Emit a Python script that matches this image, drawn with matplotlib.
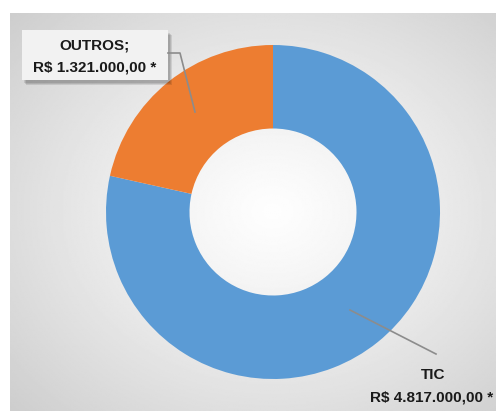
import numpy as np
import matplotlib
matplotlib.use("Agg")
import matplotlib.pyplot as plt
from matplotlib.patches import Rectangle

# valores do gráfico
categorias = ["TIC", "OUTROS"]
valores = [4817000, 1321000]
cores = ["#5B9BD5", "#ED7D31"]
nomes = ["TIC", "OUTROS;"]
textos_valor = ["R$ 4.817.000,00 *", "R$ 1.321.000,00 *"]

W, H = 496, 411
fig = plt.figure(figsize=(W / 100, H / 100), dpi=100)
fig.patch.set_facecolor("white")

# fundo cinza com gradiente radial (branco no centro da rosca)
bg = fig.add_axes([10 / W, 0, (W - 10) / W, (H - 13) / H])
gy, gx = np.mgrid[0:1:300j, 0:1:300j]
d = np.sqrt(((gx - 0.54) / 0.9) ** 2 + ((gy - 0.5) / 0.9) ** 2)
d = np.clip(d / d.max(), 0, 1)
img = 0.995 - 0.19 * d ** 1.2
bg.imshow(img, cmap="gray", vmin=0, vmax=1, extent=[0, 1, 0, 1], aspect="auto",
          interpolation="bilinear")
bg.axis("off")

# rosca
cx, cy, r = 273, 212, 167
ax = fig.add_axes([(cx - r) / W, (H - cy - r) / H, 2 * r / W, 2 * r / H])
ax.pie(valores, colors=cores, startangle=90, counterclock=False,
       wedgeprops=dict(width=0.5, edgecolor="none"), radius=1)
ax.set_xlim(-1, 1)
ax.set_ylim(-1, 1)
ax.set_aspect("equal")
ax.axis("off")

# camada para rótulos em coordenadas de pixel
ov = fig.add_axes([0, 0, 1, 1])
ov.set_xlim(0, W)
ov.set_ylim(H, 0)
ov.axis("off")

# caixa do rótulo OUTROS com sombra
for i in range(3):
    ov.add_patch(Rectangle((22 + 2 + i, 30 + 3 + i), 146, 50, facecolor="black",
                           edgecolor="none", alpha=0.10))
ov.add_patch(Rectangle((22, 30), 146, 50, facecolor="#f2f2f2", edgecolor="none"))

fonte = dict(family=["Liberation Sans", "DejaVu Sans"], fontweight="bold",
             fontsize=11, color="#1a1a1a", va="center")
ov.text(94, 45, nomes[1], ha="center", **fonte)
ov.text(33, 67, textos_valor[1], ha="left", **fonte)
ov.text(433, 375, nomes[0], ha="center", **fonte)
ov.text(370, 397, textos_valor[0], ha="left", **fonte)

# linhas de chamada
ov.plot([168, 180, 195], [53, 53, 112], color="#8c8c8c", lw=1.2)
ov.plot([350, 436], [310, 354], color="#8c8c8c", lw=1.2)

fig.savefig("out.png", dpi=100)
